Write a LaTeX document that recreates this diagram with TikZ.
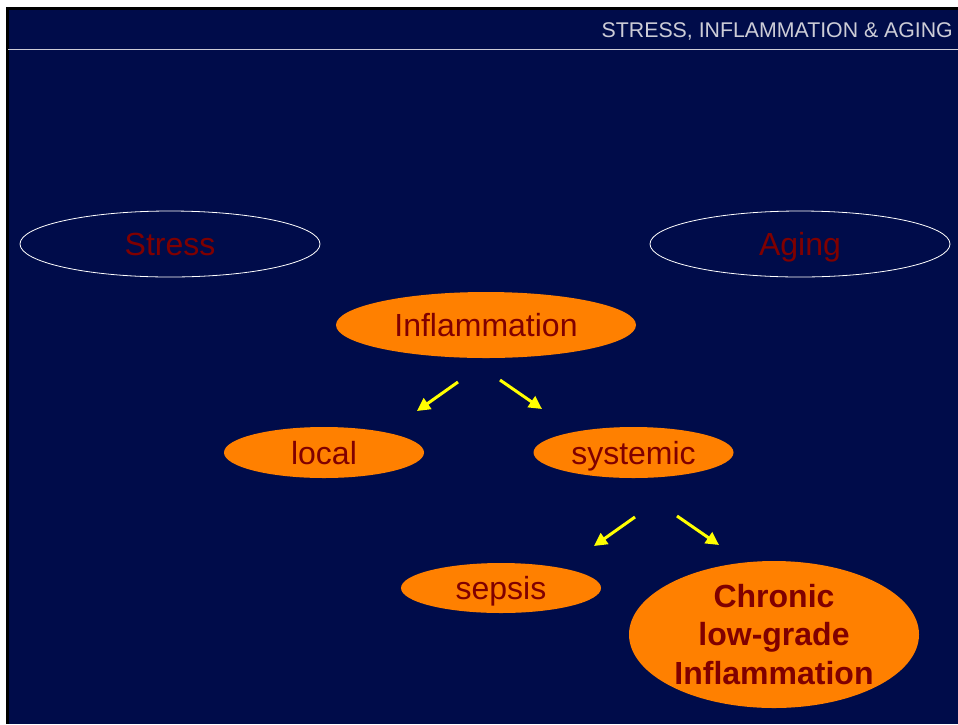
\documentclass[tikz,border=0pt]{standalone}
\usepackage{fontspec}
\setmainfont{Liberation Sans}
\usetikzlibrary{shapes.geometric,arrows.meta}
\definecolor{navy}{RGB}{0,12,74}
\definecolor{orng}{RGB}{255,128,0}
\definecolor{txtred}{RGB}{128,0,0}
\definecolor{ttlgray}{RGB}{205,205,215}
\definecolor{ylw}{RGB}{255,255,0}
\tikzset{
  oval/.style={ellipse, inner sep=0pt, text=txtred, font=\fontsize{32}{38}\selectfont, text height=23pt, text depth=0pt},
  hollow/.style={oval, draw=white, line width=0.8pt},
  filled/.style={oval, fill=orng},
  yarrow/.style={draw=ylw, line width=3pt, -{Triangle[length=13pt,width=13pt]}},
}
\begin{document}
\begin{tikzpicture}[x=1pt,y=-1pt]
\useasboundingbox (0,0) rectangle (958,724);
\fill[white] (0,0) rectangle (958,724);
\fill[black] (6,7) rectangle (958,724);
\fill[navy] (9,9.5) rectangle (958,724);
\coordinate (ll) at (8,49.3);
\coordinate (lr) at (958,49.3);
\draw[ttlgray, line width=1.2pt] (ll) -- (lr);
\node[anchor=base east, text=ttlgray, font=\fontsize{21.3}{25}\selectfont, inner sep=0pt] (title) at (953,37) {STRESS, INFLAMMATION \& AGING};

\node[hollow, minimum width=300pt, minimum height=66pt] (stress) at (170,244) {Stress};
\node[hollow, minimum width=300pt, minimum height=66pt] (aging) at (800,244) {Aging};
\node[filled, minimum width=300pt, minimum height=66pt] (infl) at (486,325) {Inflammation};
\node[filled, minimum width=200pt, minimum height=51pt] (local) at (324,452.5) {local};
\node[filled, minimum width=200pt, minimum height=51pt] (syst) at (633.5,452.5) {systemic};
\node[filled, minimum width=200pt, minimum height=50pt] (sepsis) at (501,588) {sepsis};
\node[ellipse, fill=orng, inner sep=0pt, text=txtred, minimum width=290pt, minimum height=147pt, align=center, font=\fontsize{32}{38.5}\selectfont\bfseries] (chronic) at (774,634.5) {Chronic\\low-grade\\Inflammation};

\coordinate (a1s) at (458,382); \coordinate (a1e) at (417,411);
\coordinate (a2s) at (500,380); \coordinate (a2e) at (542,409);
\coordinate (a3s) at (635,517); \coordinate (a3e) at (594,546);
\coordinate (a4s) at (677,516); \coordinate (a4e) at (719,545);
\draw[yarrow] (a1s) -- (a1e);
\draw[yarrow] (a2s) -- (a2e);
\draw[yarrow] (a3s) -- (a3e);
\draw[yarrow] (a4s) -- (a4e);
\end{tikzpicture}
\end{document}
